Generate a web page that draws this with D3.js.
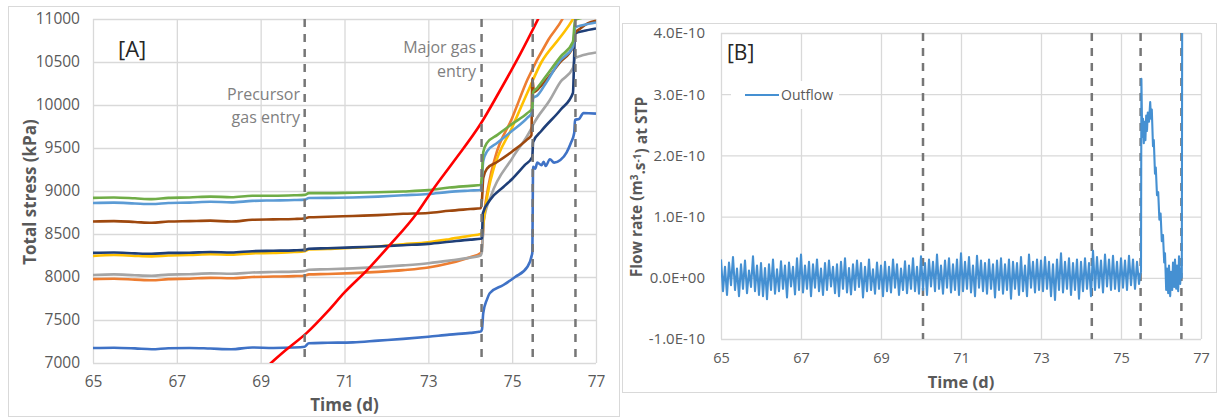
<!DOCTYPE html>
<html><head><meta charset="utf-8">
<script src="https://cdn.jsdelivr.net/npm/d3@7"></script>
<style>
body{margin:0;background:#fff;}
svg{display:block;font-family:"Open Sans","Noto Sans",sans-serif;}
</style></head>
<body><svg id="c" width="1219" height="418"></svg>
<script>
// ---------- DATA ----------
const xTicks = [65, 67, 69, 71, 73, 75, 77];
const stressTicks = [7000, 7500, 8000, 8500, 9000, 9500, 10000, 10500, 11000];
const flowTicks = [-1e-10, 0, 1e-10, 2e-10, 3e-10, 4e-10];
const flowTickLabels = ["-1.0E-10", "0.0E+00", "1.0E-10", "2.0E-10", "3.0E-10", "4.0E-10"];
const eventDays = [70.05, 74.27, 75.49, 76.51];

const seriesGreen = [[65,8920],[65.5,8925],[66,8915],[66.4,8905],[66.8,8920],[67.3,8925],[67.8,8935],[68.3,8928],[68.8,8945],[69.3,8945],[69.8,8950],[70.05,8955],[70.15,8975],[70.6,8975],[71.2,8980],[71.8,8985],[72.4,8995],[73,9010],[73.5,9040],[74,9060],[74.25,9070],[74.28,9200],[74.31,9450],[74.4,9560],[74.64,9650],[75,9780],[75.36,9905],[75.48,9965],[75.5,10150],[75.6,10200],[75.8,10330],[76.15,10560],[76.45,10735],[76.5,10990],[76.7,11020],[77,11100]];
const seriesLightBlue = [[65,8860],[65.5,8865],[66,8855],[66.4,8848],[66.8,8860],[67.3,8865],[67.8,8875],[68.3,8868],[68.8,8885],[69.3,8890],[69.8,8895],[70.05,8900],[70.15,8918],[70.6,8920],[71.2,8925],[71.8,8935],[72.4,8950],[73,8965],[73.5,8990],[74,9005],[74.25,9012],[74.28,9150],[74.31,9350],[74.4,9460],[74.64,9558],[75,9700],[75.36,9850],[75.48,9920],[75.5,10080],[75.6,10110],[75.8,10250],[76.15,10520],[76.45,10675],[76.5,10900],[76.7,10930],[77,10960]];
const seriesBrown = [[65,8645],[65.5,8650],[66,8640],[66.4,8630],[66.8,8645],[67.3,8650],[67.8,8655],[68.3,8645],[68.8,8665],[69.3,8670],[69.8,8675],[70.05,8680],[70.15,8695],[70.6,8700],[71.2,8710],[71.8,8720],[72.4,8735],[73,8745],[73.5,8770],[74,8790],[74.25,8800],[74.28,8900],[74.31,9150],[74.4,9260],[74.64,9337],[75,9460],[75.36,9600],[75.46,9650],[75.48,10310],[75.52,10150],[75.7,10230],[76.15,10500],[76.45,10675],[76.5,10840],[76.6,10880],[76.8,10950],[77,10980]];
const seriesNavy = [[65,8280],[65.5,8285],[66,8275],[66.4,8270],[66.8,8280],[67.3,8282],[67.8,8290],[68.3,8285],[68.8,8300],[69.3,8305],[69.8,8310],[70.05,8315],[70.15,8328],[70.6,8335],[71.2,8345],[71.8,8355],[72.4,8370],[73,8385],[73.5,8410],[74,8435],[74.25,8445],[74.28,8455],[74.3,8740],[74.47,8895],[74.79,9046],[75,9140],[75.3,9300],[75.48,9395],[75.5,9570],[75.7,9700],[76.15,9942],[76.45,10140],[76.5,10830],[76.7,10860],[77,10890]];
const seriesYellow = [[65,8245],[65.5,8255],[66,8245],[66.4,8240],[66.8,8250],[67.3,8255],[67.8,8265],[68.3,8260],[68.8,8275],[69.3,8280],[69.8,8290],[70.05,8300],[70.15,8320],[70.6,8325],[71.2,8340],[71.8,8355],[72.4,8380],[73,8405],[73.5,8440],[74,8480],[74.25,8500],[74.28,8520],[74.33,8700],[74.45,9050],[74.55,9244],[75,9740],[75.36,10140],[75.7,10500],[76.15,10790],[76.45,11000],[76.6,11150]];
const seriesOrange = [[65,7975],[65.5,7980],[66,7970],[66.4,7962],[66.8,7975],[67.3,7980],[67.8,7990],[68.3,7985],[68.8,8000],[69.3,8005],[69.8,8010],[70.05,8015],[70.15,8030],[70.6,8035],[71.2,8045],[71.8,8060],[72.4,8080],[73,8110],[73.5,8160],[74,8230],[74.25,8280],[74.28,8350],[74.33,8700],[74.45,9100],[74.6,9400],[75,9850],[75.36,10290],[75.86,10756],[76.2,11000],[76.3,11100]];
const seriesGray = [[65,8023],[65.5,8030],[66,8020],[66.4,8015],[66.8,8028],[67.3,8032],[67.8,8042],[68.3,8038],[68.8,8052],[69.3,8058],[69.8,8062],[70.05,8068],[70.15,8085],[70.6,8090],[71.2,8100],[71.8,8115],[72.4,8135],[73,8160],[73.5,8190],[74,8225],[74.25,8250],[74.28,8300],[74.32,8650],[74.5,8950],[75,9380],[75.45,9720],[75.5,9770],[75.9,10058],[76.15,10267],[76.45,10430],[76.5,10545],[76.7,10580],[77,10610]];
const seriesBlue = [[65,7175],[65.5,7178],[66,7170],[66.4,7160],[66.8,7172],[67.3,7175],[67.8,7168],[68.3,7160],[68.8,7180],[69.3,7175],[69.8,7180],[70.05,7190],[70.15,7230],[70.6,7235],[71.2,7240],[71.8,7260],[72.4,7280],[73,7305],[73.5,7330],[74,7350],[74.25,7365],[74.28,7390],[74.31,7580],[74.4,7740],[74.47,7814],[74.79,7907],[75.07,8000],[75.36,8116],[75.48,8280],[75.5,9280],[75.55,9260],[75.6,9330],[75.7,9300],[75.75,9340],[75.8,9290],[75.9,9370],[76,9330],[76.15,9360],[76.3,9450],[76.4,9558],[76.48,9674],[76.5,9826],[76.6,9840],[76.7,9907],[77,9900]];
const seriesRed = [[69.2,6980],[69.6,7150],[70.1,7350],[70.6,7600],[71,7820],[71.54,8080],[72.04,8350],[72.73,8745],[73.1,9010],[73.6,9340],[74.26,9790],[74.7,10160],[75.2,10600],[75.65,11030]];

// Outflow, units of 1e-12 m3/s; baseline noise sampled every 0.05 d from day 65
const flowNoiseStart = 65, flowNoiseStep = 0.05;
const flowNoise = [
 30,-22,18,-28,25,-12,34,-20,15,-30,22,-18,28,-25,12,-15,35,-22,20,-28,
 24,-30,16,-35,22,-20,30,-26,14,-22,27,-18,20,-32,25,-14,18,-27,32,-20,
 38,-24,20,-18,26,-30,22,-16,30,-22,15,-28,24,-20,28,-14,18,-25,22,-30,
 26,-18,32,-24,16,-27,22,-20,28,-15,24,-32,18,-22,30,-20,14,-26,25,-18,
 20,-30,26,-22,18,-24,30,-16,22,-28,15,-20,27,-25,20,-18,32,-22,18,-26,
 35,-20,24,-28,30,-14,26,-22,38,-18,20,-26,28,-16,32,-24,22,-20,30,-28,
 40,-22,26,-18,34,-24,20,-30,36,-16,28,-22,24,-26,30,-18,22,-32,28,-20,
 32,-26,22,-20,30,-34,26,-18,24,-28,34,-22,20,-30,38,-16,26,-24,30,-20,
 28,-22,34,-18,26,-30,22,-36,30,-20,40,-24,26,-18,32,-28,24,-20,30,-34,
 26,-22,32,-18,24,-30,44,-20,34,-16,28,-24,38,-14,30,-20,36,-18,26,-22,
 32,-16,28,-20,36,-12,30,-18,26,-10];
const flowEvent = [[75.48,5],[75.5,10],[75.51,325],[75.53,230],[75.55,260],[75.57,220],[75.59,255],[75.61,225],[75.63,265],[75.65,240],[75.67,270],[75.7,255],[75.73,287],[75.75,260],[75.77,275],[75.8,215],[75.82,225],[75.85,170],[75.87,180],[75.9,135],[75.93,140],[75.96,95],[75.99,105],[76.02,60],[76.05,70],[76.08,25],[76.1,40],[76.13,-20],[76.15,15],[76.18,-25],[76.2,20],[76.23,-30],[76.25,10],[76.28,-20],[76.3,25],[76.33,-15],[76.35,30],[76.38,-18],[76.4,20],[76.43,-22],[76.45,35],[76.48,-10],[76.5,15],[76.52,0],[76.53,450]];

// ---------- DRAW ----------
const svg = d3.select("#c");
const GRID = "#d9d9d9", TXT = "#595959";

// frames
svg.append("rect").attr("x",8.5).attr("y",6.5).attr("width",611).attr("height",410).attr("fill","none").attr("stroke",GRID);
svg.append("rect").attr("x",622.5).attr("y",23.5).attr("width",594).attr("height",369).attr("fill","none").attr("stroke",GRID);

function styleAxis(size){
  return g => {
    g.select(".domain").remove();
    g.selectAll("line").attr("stroke",GRID).attr("stroke-width",1.3);
    g.selectAll("text").attr("fill",TXT).style("font-size",size).style("font-family",'"Open Sans",sans-serif');
  };
}

// ----- Panel A -----
const xA = d3.scaleLinear().domain([65,77]).range([93,596]);
const yA = d3.scaleLinear().domain([7000,11000]).range([363,19]);

svg.append("g").attr("transform","translate(93,0)")
  .call(d3.axisLeft(yA).tickValues(stressTicks).tickSize(-(596-93)).tickPadding(13).tickFormat(d3.format("d")))
  .call(styleAxis("15.5px"));
svg.append("g").attr("transform","translate(0,363)")
  .call(d3.axisBottom(xA).tickValues(xTicks).tickSizeInner(-(363-19)).tickPadding(13).tickFormat(d3.format("d")))
  .call(styleAxis("15.5px"));

svg.append("defs").html('<clipPath id="clipA"><rect x="93" y="19" width="503" height="344"/></clipPath><clipPath id="clipB"><rect x="721" y="33" width="480" height="306"/></clipPath>');

const gA = svg.append("g").attr("clip-path","url(#clipA)");
const lineA = d3.line().x(d=>xA(d[0])).y(d=>yA(d[1])).curve(d3.curveMonotoneX);
const seriesA = [
  [seriesBlue,"#3f72c6"],[seriesOrange,"#ed7d31"],[seriesGray,"#a5a5a5"],[seriesYellow,"#ffc000"],
  [seriesNavy,"#1f3f78"],[seriesBrown,"#9e480e"],[seriesLightBlue,"#5b9bd5"],[seriesGreen,"#70ad47"],[seriesRed,"#ff0000"]
];
seriesA.forEach(([data,color])=>{
  gA.append("path").attr("d",lineA(data)).attr("fill","none").attr("stroke",color).attr("stroke-width",2.6).attr("stroke-linejoin","round");
});
svg.append("g").selectAll("line").data(eventDays).join("line")
  .attr("x1",d=>xA(d)).attr("x2",d=>xA(d)).attr("y1",yA(11000)).attr("y2",yA(7000))
  .attr("stroke","#767676").attr("stroke-width",2.5).attr("stroke-dasharray","8,7");

svg.append("text").attr("x",118).attr("y",57).text("[A]").attr("fill","#262626").style("font-size","22px");
const annA = svg.append("g").attr("fill","#7f7f7f").style("font-size","16px").attr("text-anchor","end");
annA.append("text").attr("x",300).attr("y",100).text("Precursor");
annA.append("text").attr("x",300).attr("y",123).text("gas entry");
annA.append("text").attr("x",476).attr("y",53).text("Major gas");
annA.append("text").attr("x",476).attr("y",77).text("entry");

svg.append("text").attr("x",(93+596)/2).attr("y",411).attr("text-anchor","middle").attr("fill",TXT)
  .style("font-size","17px").style("font-weight","bold").text("Time (d)");
svg.append("text").attr("transform","translate(30,192) rotate(-90)").attr("dy","0.35em").attr("text-anchor","middle").attr("fill",TXT)
  .style("font-size","17px").style("font-weight","bold").text("Total stress (kPa)");

// ----- Panel B -----
const xB = d3.scaleLinear().domain([65,77]).range([721,1201]);
const yB = d3.scaleLinear().domain([-1e-10,4e-10]).range([339,33]);

svg.append("g").attr("transform","translate(721,0)")
  .call(d3.axisLeft(yB).tickValues(flowTicks).tickSize(-(1201-721)).tickPadding(16).tickFormat((d,i)=>flowTickLabels[i]))
  .call(styleAxis("15px"));
svg.append("g").attr("transform","translate(0,339)")
  .call(d3.axisBottom(xB).tickValues(xTicks).tickSizeInner(-(339-33)).tickPadding(14).tickFormat(d3.format("d")))
  .call(styleAxis("14.5px"));

const flowData = flowNoise.map((v,i)=>[flowNoiseStart + i*flowNoiseStep, v*1e-12])
  .concat(flowEvent.map(d=>[d[0], d[1]*1e-12]));
const lineB = d3.line().x(d=>xB(d[0])).y(d=>yB(d[1]));

svg.append("g").selectAll("line").data(eventDays).join("line")
  .attr("x1",d=>xB(d)).attr("x2",d=>xB(d)).attr("y1",yB(4e-10)).attr("y2",yB(-1e-10))
  .attr("stroke","#767676").attr("stroke-width",2.5).attr("stroke-dasharray","8,7");
svg.append("g").attr("clip-path","url(#clipB)").append("path").attr("d",lineB(flowData))
  .attr("fill","none").attr("stroke","#4590d2").attr("stroke-width",2.1).attr("stroke-linejoin","round");

// legend
const leg = svg.append("g");
leg.append("rect").attr("x",731).attr("y",81).attr("width",108).attr("height",28).attr("fill","#fff");
leg.append("line").attr("x1",745).attr("x2",779).attr("y1",95).attr("y2",95).attr("stroke","#4590d2").attr("stroke-width",2);
leg.append("text").attr("x",781).attr("y",100).attr("fill",TXT).style("font-size","14px").text("Outflow");

svg.append("text").attr("x",727).attr("y",60).text("[B]").attr("fill","#262626").style("font-size","21px");
svg.append("text").attr("x",(721+1201)/2).attr("y",388).attr("text-anchor","middle").attr("fill",TXT)
  .style("font-size","16.5px").style("font-weight","bold").text("Time (d)");
const yt = svg.append("text").attr("transform","translate(637,187) rotate(-90)").attr("dy","0.35em").attr("text-anchor","middle").attr("fill",TXT)
  .style("font-size","15.5px").style("font-weight","bold");
yt.append("tspan").text("Flow rate (m");
yt.append("tspan").attr("dy","-0.4em").style("font-size","10px").text("3");
yt.append("tspan").attr("dy","0.4em").text(".s");
yt.append("tspan").attr("dy","-0.4em").style("font-size","10px").text("-1");
yt.append("tspan").attr("dy","0.4em").text(") at STP");
</script></body></html>
